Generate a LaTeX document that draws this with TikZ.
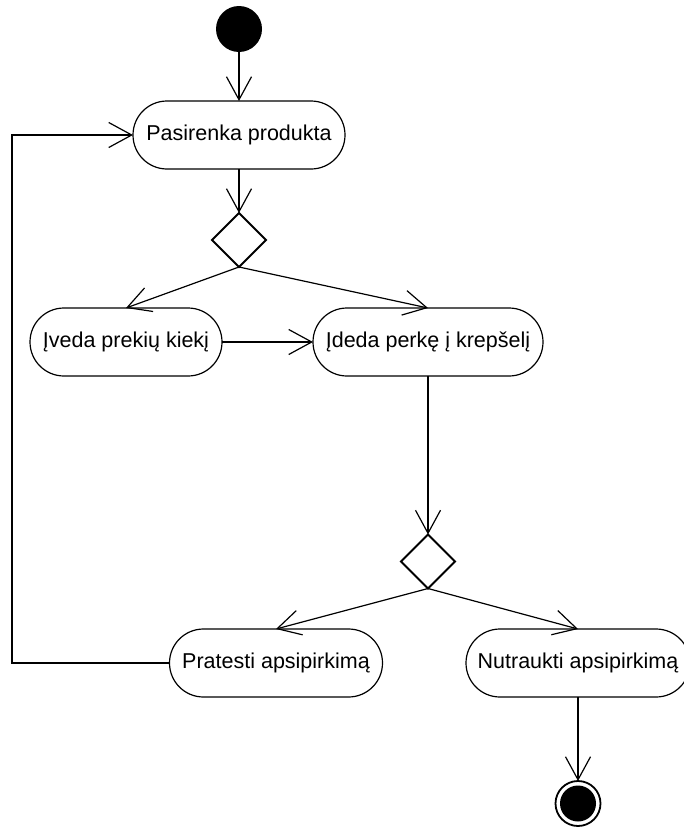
\documentclass[tikz,border=0pt]{standalone}
\usepackage{fontspec}
\setmainfont{Liberation Sans}
\usetikzlibrary{arrows.meta,shapes.geometric}

\tikzset{
  flow/.style={line width=1.2pt, draw=black,
    -{Straight Barb[length=23pt,width=25pt,line width=1.2pt]}},
  action/.style={draw=black, fill=white, line width=1.2pt,
    rounded corners=34pt, minimum height=68pt, inner sep=0pt, outer sep=0pt,
    font=\fontsize{21.5pt}{25pt}\selectfont},
  choice/.style={diamond, draw=black, fill=white, line width=1.8pt,
    minimum width=54pt, minimum height=54pt, inner sep=0pt, outer sep=0pt},
  startdot/.style={circle, fill=black, minimum size=46pt, inner sep=0pt, outer sep=0pt},
  endring/.style={circle, draw=black, line width=1.8pt, fill=white,
    minimum size=45pt, inner sep=0pt, outer sep=0pt},
  enddot/.style={circle, fill=black, minimum size=36pt, inner sep=0pt}
}

\begin{document}
\begin{tikzpicture}[x=1pt, y=-1pt]
  \useasboundingbox (0,0) rectangle (684,827);

  % activity nodes
  \node[startdot] (start) at (239,29) {};
  \node[action, minimum width=212pt] (pas) at (239,135) {Pasirenka produkta};
  \node[choice] (d1) at (239,240) {};
  \node[action, minimum width=192pt] (ived) at (126,342) {Įveda prekių kiekį};
  \node[action, minimum width=230pt] (ided) at (428,342) {Įdeda perkę į krepšelį};
  \node[choice] (d2) at (428,561.5) {};
  \node[action, minimum width=213pt] (prat) at (276,663) {Pratesti apsipirkimą};
  \node[action, minimum width=224pt] (nutr) at (578,663) {Nutraukti apsipirkimą};
  \node[endring] (final) at (578,803.5) {};
  \node[enddot] (finaldot) at (final) {};

  % loop back corner
  \coordinate (loop) at (12,663);

  % transitions
  \draw[flow] (start) -- (pas);
  \draw[flow] (pas) -- (d1);
  \draw[flow] (d1.south) -- (ived.north);
  \draw[flow] (d1.south) -- (ided.north);
  \draw[flow] (ived) -- (ided);
  \draw[flow] (ided) -- (d2);
  \draw[flow] (d2.south) -- (prat.north);
  \draw[flow] (d2.south) -- (nutr.north);
  \draw[flow] (nutr) -- (final);
  \draw[flow] (prat.west) -- (loop) |- (pas.west);
\end{tikzpicture}
\end{document}
